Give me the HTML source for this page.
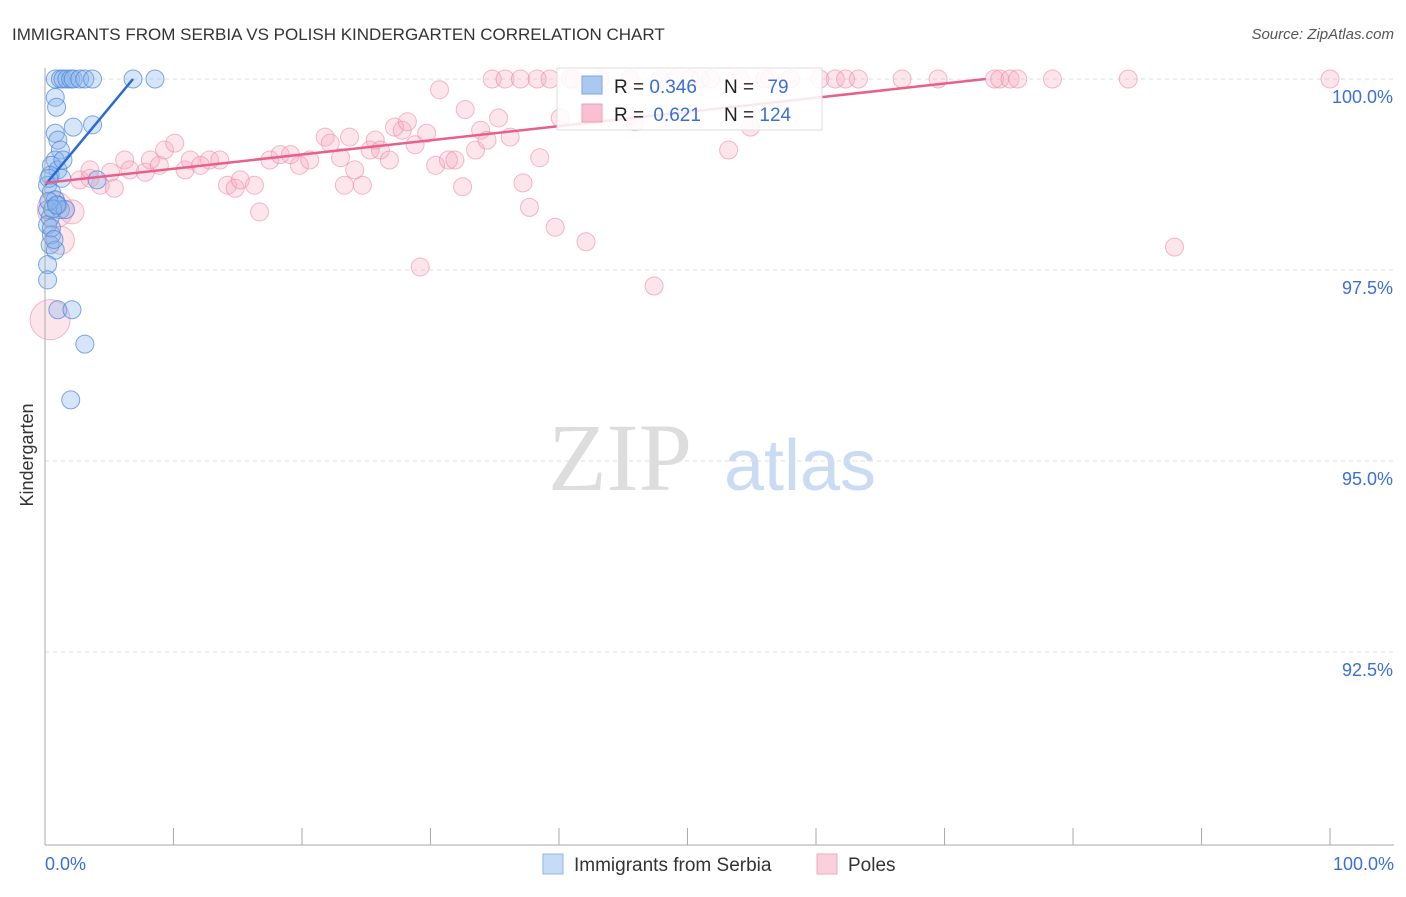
<!DOCTYPE html>
<html><head><meta charset="utf-8"><style>
body{margin:0;background:#fff;font-family:"Liberation Sans",sans-serif;}
</style></head><body>
<svg id="c" width="1406" height="892" xmlns="http://www.w3.org/2000/svg">
<text x="12" y="40" font-size="17" fill="#333">IMMIGRANTS FROM SERBIA VS POLISH KINDERGARTEN CORRELATION CHART</text>
<text x="1394" y="39" font-size="15" fill="#555" text-anchor="end" font-style="italic">Source: ZipAtlas.com</text>
<text x="620" y="490" font-size="96" fill="#ddd" font-family="Liberation Serif,serif" text-anchor="middle">ZIP</text>
<text x="800" y="490" font-size="72" fill="#c9dcf3" text-anchor="middle">atlas</text>
<g id="grid"></g><g id="pink"></g><g id="blue"></g><g id="lines"></g><g id="axes"></g>
<text transform="translate(33,455) rotate(-90)" font-size="18" fill="#333" text-anchor="middle">Kindergarten</text>
<g>
<rect x="557" y="68" width="265" height="62" fill="#fff" fill-opacity="0.85" stroke="#ddd"/>
<rect x="582" y="76" width="20" height="18" fill="#aac8f0" stroke="#7aa6e0"/>
<rect x="582" y="104" width="20" height="18" fill="#f8c0d0" stroke="#eea0b8"/>
<text x="614" y="93" font-size="19" fill="#222">R = <tspan fill="#3a6fd8">0.346</tspan></text>
<text x="724" y="93" font-size="19" fill="#222">N = <tspan fill="#3a6fd8" dx="8">79</tspan></text>
<text x="614" y="121" font-size="19" fill="#222">R = <tspan fill="#3a6fd8" dx="4">0.621</tspan></text>
<text x="724" y="121" font-size="19" fill="#222">N = <tspan fill="#3a6fd8">124</tspan></text>
</g>
<g>
<rect x="543" y="854" width="20" height="20" fill="#c5dbf6" stroke="#8fb4e6"/>
<text x="574" y="871" font-size="19" fill="#333">Immigrants from Serbia</text>
<rect x="817" y="854" width="20" height="20" fill="#fbd0dd" stroke="#f0a8bf"/>
<text x="848" y="871" font-size="19" fill="#333">Poles</text>
</g>
</svg>
<script>
const yTicks=[100,97.5,95,92.5];
const yTickLabels=["100.0%","97.5%","95.0%","92.5%"];
const xTickLabels=["0.0%","100.0%"];
const blueX=[0.8,1.2,1.4,1.7,2.0,2.2,2.7,3.1,3.7,6.85,8.56,0.8,0.9,2.2,3.7,0.8,1.0,1.2,0.8,0.5,1.0,0.4,1.3,0.2,0.5,0.8,1.0,0.2,1.2,0.4,0.2,0.5,0.4,0.8,0.2,0.2,1.0,2.1,3.1,2.0,4.05,1.6,1.4,0.3,0.6,0.9,0.3,0.5,0.7];
const blueY=[100,100,100,100,100,100,100,100,100,100,100,99.76,99.63,99.37,99.4,99.29,99.2,99.07,98.94,98.87,98.81,98.74,98.7,98.61,98.52,98.42,98.35,98.29,98.29,98.18,98.09,97.96,97.83,97.76,97.57,97.37,96.98,96.98,96.53,95.8,98.68,98.29,98.94,98.4,98.3,98.35,98.7,98.05,97.9];
const pinkX=[0.4,0.8,1.2,2.1,2.7,3.5,4.3,5.4,3.5,5.1,6.2,6.6,7.8,8.2,8.9,9.3,10.1,10.9,11.3,12.1,12.8,13.6,14.2,14.8,15.2,16.3,16.7,17.5,18.3,19.1,19.8,20.6,21.8,22.2,23.0,23.3,23.7,24.1,24.7,25.3,25.7,26.1,26.8,27.2,27.8,28.2,28.8,29.2,29.7,30.4,30.7,31.4,31.9,32.5,32.7,33.5,33.9,34.4,34.8,35.3,35.8,36.2,37.0,37.2,37.7,38.3,38.5,39.3,39.7,40.1,40.9,41.2,42.1,43.2,45.5,45.9,47.4,47.9,49.0,50.2,51.0,51.8,53.2,54.1,54.9,56.0,56.4,58.0,60.3,61.5,62.3,63.3,66.7,69.5,73.9,74.3,75.1,75.7,78.4,84.3,87.9,100];
const pinkY=[96.85,98.29,97.89,98.26,98.68,98.7,98.61,98.57,98.81,98.78,98.94,98.81,98.78,98.94,98.87,99.07,99.16,98.81,98.94,98.87,98.94,98.94,98.61,98.57,98.68,98.61,98.26,98.94,99.01,99.01,98.87,98.94,99.24,99.16,98.97,98.61,99.24,98.81,98.61,99.07,99.2,99.07,98.94,99.37,99.33,99.44,99.14,97.54,99.29,98.87,99.86,98.94,98.94,98.59,99.6,99.07,99.33,99.2,100,99.49,100,99.24,100,98.64,98.32,100,98.97,100,98.06,99.49,100,100,97.87,100,100,99.44,97.29,100,100,100,100,100,99.07,100,99.37,100,100,100,100,100,100,100,100,100,100,100,100,100,100,100,97.8,100];
const pinkR=[20,18,14,12,9,9,9,9,9,9,9,9,9,9,9,9,9,9,9,9,9,9,9,9,9,9,9,9,9,9,9,9,9,9,9,9,9,9,9,9,9,9,9,9,9,9,9,9,9,9,9,9,9,9,9,9,9,9,9,9,9,9,9,9,9,9,9,9,9,9,9,9,9,9,9,9,9,9,9,9,9,9,9,9,9,9,9,9,9,9,9,9,9,9,9,9,9,9,9,9,9,9];
const blueTrend=[[0,98.61],[6.85,100]];
const pinkTrend=[[0,98.64],[73.2,100]];
const X=v=>45+v*12.85, Y=v=>79+(100-v)*76.4;
const NS="http://www.w3.org/2000/svg";
function mk(tag,attrs,parent){const e=document.createElementNS(NS,tag);for(const k in attrs)e.setAttribute(k,attrs[k]);document.getElementById(parent).appendChild(e);return e;}
yTicks.forEach((t,i)=>{
 const g=mk('line',{x1:45,x2:1394,y1:Y(t),y2:Y(t),stroke:'#ddd','stroke-dasharray':'4,4'},'grid');
 
 
 const l=mk('text',{x:1393,y:Y(t)+24,'font-size':18,fill:'#3a6fd8','text-anchor':'end'},'axes');
 l.textContent=yTickLabels[i];
 
 
});
const ax=mk('line',{x1:45,x2:45,y1:68,y2:845,stroke:'#aaa'},'axes');


const bx=mk('line',{x1:45,x2:1394,y1:845,y2:845,stroke:'#aaa'},'axes');


for(let k=1;k<=10;k++){const t=mk('line',{x1:X(k*10),x2:X(k*10),y1:828,y2:845,stroke:'#aaa'},'axes');
 
 }
[[0,'start',45],[100,'end',1394]].forEach((d,i)=>{const t=mk('text',{x:d[2],y:870,'font-size':18,fill:'#3a6fd8','text-anchor':d[1]},'axes');t.textContent=xTickLabels[i];
 
 });
pinkX.forEach((v,i)=>{const c=mk('circle',{cx:X(v),cy:Y(pinkY[i]),r:pinkR[i],fill:'#f7a8c0','fill-opacity':0.3,stroke:'#ee88a8','stroke-opacity':0.6},'pink');
 
 });
blueX.forEach((v,i)=>{const c=mk('circle',{cx:X(v),cy:Y(blueY[i]),r:9,fill:'#8ab4ec','fill-opacity':0.35,stroke:'#4a84d8','stroke-opacity':0.7},'blue');
 
 });
const bl=mk('line',{x1:X(blueTrend[0][0]),y1:Y(blueTrend[0][1]),x2:X(blueTrend[1][0]),y2:Y(blueTrend[1][1]),stroke:'#2a6ad8','stroke-width':2.5},'lines');


const pl=mk('line',{x1:X(pinkTrend[0][0]),y1:Y(pinkTrend[0][1]),x2:X(pinkTrend[1][0]),y2:Y(pinkTrend[1][1]),stroke:'#e8608a','stroke-width':2.5},'lines');


</script>
</body></html>
